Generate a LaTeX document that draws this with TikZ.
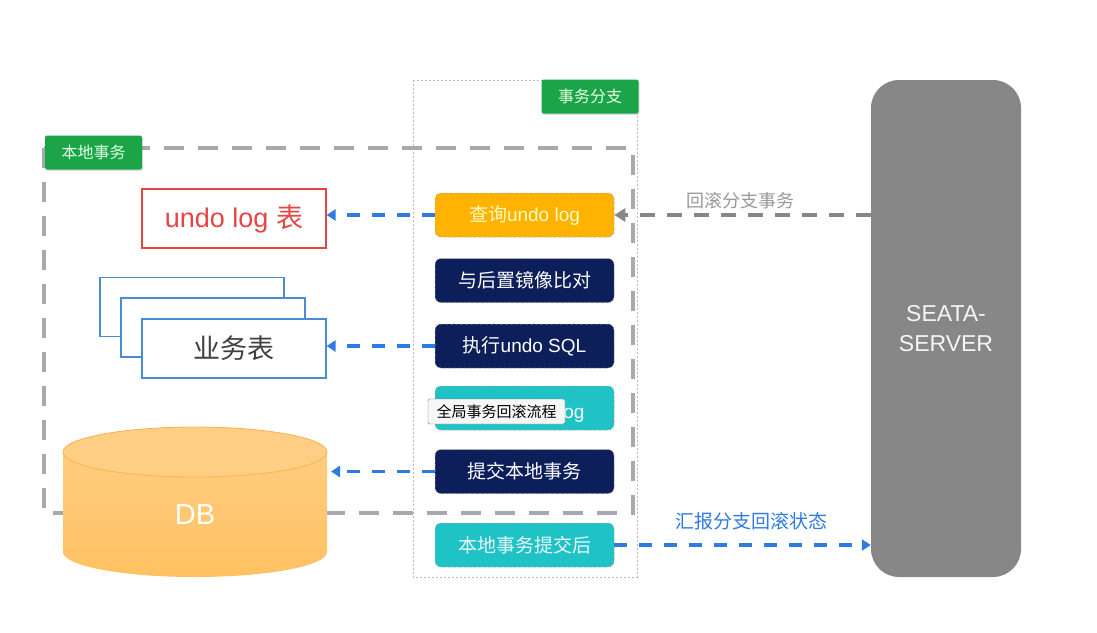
\documentclass[tikz,border=0pt]{standalone}
\usepackage{fontspec}
\setmainfont{Liberation Sans}
\newfontfamily\cjk{Noto Sans CJK SC}
\usetikzlibrary{arrows.meta,shadows}

\definecolor{tagGreen}{HTML}{1BA548}
\definecolor{stepOrange}{HTML}{FFB300}
\definecolor{stepNavy}{HTML}{0C1F5B}
\definecolor{stepTeal}{HTML}{1FC3C6}
\definecolor{serverGray}{HTML}{878787}
\definecolor{flowBlue}{HTML}{2E7BE2}
\definecolor{frameGray}{HTML}{A6A9AE}
\definecolor{undoRed}{HTML}{E64543}
\definecolor{tableBlue}{HTML}{4A8BD8}
\definecolor{dbTop}{HTML}{FFCE85}
\definecolor{dbBottom}{HTML}{FFC262}
\definecolor{dbEdge}{HTML}{F7B54E}

\begin{document}
\begin{tikzpicture}[x=1pt,y=-1pt,
    stepbox/.style={rounded corners=6pt, minimum width=179pt, minimum height=44pt, inner sep=0pt,
      text=white, draw=white!65!black, densely dashed, line width=0.5pt,
      font=\fontsize{19}{19}\selectfont},
    tag/.style={fill=tagGreen, rounded corners=2pt, minimum width=97pt, minimum height=34pt, inner sep=0pt,
      text=white!90!green, font=\cjk\fontsize{16}{16}\selectfont,
      drop shadow={opacity=0.25, shadow xshift=1pt, shadow yshift=-1.5pt}},
    tablebox/.style={draw=tableBlue, line width=1.2pt, fill=white, minimum width=184pt,
      minimum height=59pt, inner sep=0pt},
    bluearrow/.style={flowBlue, line width=3.6pt, dash pattern=on 13pt off 12pt,
      -{Triangle[length=9pt,width=11pt]}},
    grayarrow/.style={serverGray, line width=3.6pt, dash pattern=on 15pt off 12pt,
      -{Triangle[length=11pt,width=13pt]}}]

    \useasboundingbox (0,0) rectangle (1097,632);

    % branch frame and local transaction frame
    \draw[frameGray!80, line width=0.8pt, dash pattern=on 2pt off 2pt] (413,80) rectangle (637,577);
    \draw[frameGray, line width=4pt, dash pattern=on 20pt off 14pt] (44,148) rectangle (633,513);

    \node[tag] (branchtag) at (590,96.5) {事务分支};
    \node[tag] (localtag) at (93.5,152.5) {本地事务};

    % tables on the left
    \node[draw=undoRed, line width=1.2pt, fill=white, minimum width=184pt, minimum height=59pt, inner sep=0pt,
      text=undoRed, font=\fontsize{27}{27}\selectfont] (undolog) at (234,218.5) {undo log {\cjk 表}};
    \node[tablebox] (bizback) at (192,307) {};
    \node[tablebox] (bizmid) at (213,327.5) {};
    \node[tablebox, text=black!75, font=\cjk\fontsize{27}{27}\selectfont] (biz) at (234,348.5) {业务表};

    % database
    \shade[top color=dbTop, bottom color=dbBottom] (63,452) -- (63,552)
      arc[start angle=180, end angle=0, x radius=132, y radius=25] -- (327,452)
      arc[start angle=0, end angle=-180, x radius=132, y radius=25] -- cycle;
    \filldraw[fill=dbTop, draw=dbEdge, line width=0.8pt] (195,452) ellipse [x radius=132, y radius=25];
    \node[text=white, font=\fontsize{29}{29}\selectfont] (db) at (195,515) {DB};
    \coordinate (dbside) at (331,471.5);

    % rollback steps
    \node[stepbox, fill=stepOrange, text=white!75!yellow] (query) at (524.5,215) {{\cjk 查询}undo log};
    \node[stepbox, fill=stepNavy, font=\cjk\fontsize{19}{19}\selectfont] (compare) at (524.5,280.5) {与后置镜像比对};
    \node[stepbox, fill=stepNavy] (execute) at (524.5,346) {{\cjk 执行}undo SQL};
    \node[stepbox, fill=stepTeal] (delete) at (524.5,408) {};
    \node[text=white, inner sep=0pt, font=\fontsize{19}{19}\selectfont] (deletetext) at (529,412) {{\cjk 删除}undo log};
    \node[stepbox, fill=stepNavy, font=\cjk\fontsize{19}{19}\selectfont] (commit) at (524.5,471.5) {提交本地事务};
    \node[stepbox, fill=stepTeal, text=white!92!cyan, font=\cjk\fontsize{19}{19}\selectfont] (aftercommit) at (524.5,545) {本地事务提交后};

    % server
    \node[fill=serverGray, rounded corners=28pt, minimum width=150pt, minimum height=497pt, inner sep=0pt,
      text=white!92!gray, align=center, font=\fontsize{23}{30}\selectfont] (server) at (946,328.5) {SEATA-\\SERVER};

    % connectors
    \draw[bluearrow] (query.west) -- (query.west -| undolog.east);
    \draw[bluearrow] (execute.west) -- (execute.west -| biz.east);
    \draw[bluearrow] (commit.west) -- (dbside);
    \draw[grayarrow] (server.west |- query.east) -- (query.east);
    \draw[bluearrow] (aftercommit.east) -- (aftercommit.east -| server.west);

    \node[text=black!40, font=\cjk\fontsize{18}{18}\selectfont] (rollbacklabel) at (740,201) {回滚分支事务};
    \node[text=flowBlue, font=\cjk\fontsize{19}{19}\selectfont] (reportlabel) at (751,521) {汇报分支回滚状态};

    % tooltip
    \node[draw=black!55, fill=black!3, rounded corners=1.5pt, minimum width=137pt, minimum height=25pt, inner sep=0pt,
      font=\cjk\fontsize{15}{15}\selectfont] (tooltip) at (496.5,411.5) {全局事务回滚流程};
\end{tikzpicture}
\end{document}
